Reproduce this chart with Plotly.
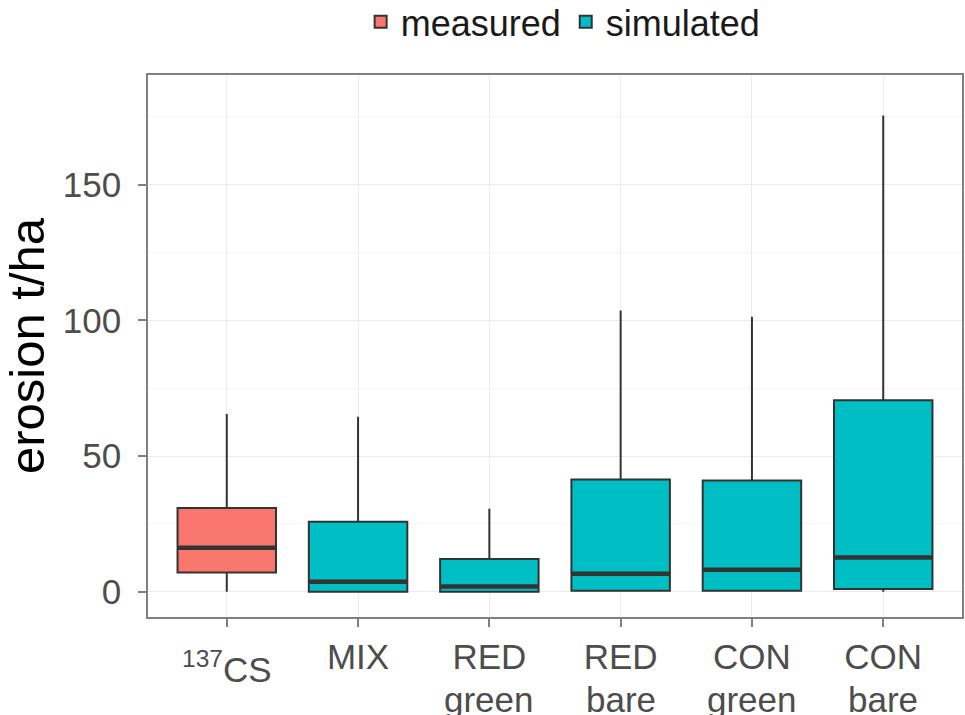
import plotly.graph_objects as go

label_line1 = ["<sup>137</sup>CS", "MIX", "RED", "RED", "CON", "CON"]
label_line2 = ["", "", "green", "bare", "green", "bare"]
groups = ["measured", "simulated", "simulated", "simulated", "simulated", "simulated"]
lower = [0.0, 0.0, 0.0, 0.2, 0.2, 0.0]
q1 = [7.1, 0.0, 0.0, 0.4, 0.4, 1.0]
median = [16.2, 3.7, 1.9, 6.6, 8.1, 12.6]
q3 = [30.9, 25.8, 12.1, 41.4, 41.0, 70.6]
upper = [65.5, 64.5, 30.6, 103.6, 101.3, 175.5]
y_ticks = [0, 50, 100, 150]
y_minor = [25, 75, 125, 175]

colors = {"measured": "#F8766D", "simulated": "#00BFC4"}
box_width = 0.75
line_col = "#333333"
frame_col = "#808080"
font_family = "Liberation Sans, Arial, Helvetica, sans-serif"

fig = go.Figure()
positions = list(range(len(label_line1)))

for g in ["measured", "simulated"]:
    idx = [i for i, gg in enumerate(groups) if gg == g]
    fig.add_trace(go.Box(
        name=g,
        x=[positions[i] for i in idx],
        q1=[q1[i] for i in idx],
        median=[median[i] for i in idx],
        q3=[q3[i] for i in idx],
        lowerfence=[lower[i] for i in idx],
        upperfence=[upper[i] for i in idx],
        width=box_width,
        whiskerwidth=0,
        fillcolor=colors[g],
        line=dict(color=line_col, width=2),
        boxpoints=False,
        hoverinfo="skip",
    ))

# thick median lines (ggplot-style fattened median)
mx, my = [], []
for i, m in zip(positions, median):
    mx += [i - box_width / 2, i + box_width / 2, None]
    my += [m, m, None]
fig.add_trace(go.Scatter(x=mx, y=my, mode="lines", line=dict(color=line_col, width=4.5),
                         showlegend=False, hoverinfo="skip"))

# category labels: first line as tick text (the isotope label as an annotation so its
# baseline can sit lower like the reference), second line as annotation (tight spacing)
tick_text = []
for i, (t1, t2) in enumerate(zip(label_line1, label_line2)):
    if "<sup>" in t1:
        tick_text.append("")
        fig.add_annotation(x=positions[i], xref="x", y=0, yref="paper", text=t1, showarrow=False,
                           yanchor="middle", yshift=-50,
                           font=dict(size=35, color="#4D4D4D", family=font_family))
    else:
        tick_text.append(t1)
    if t2:
        fig.add_annotation(x=positions[i], xref="x", y=0, yref="paper", text=t2, showarrow=False,
                           yanchor="middle", yshift=-82,
                           font=dict(size=35, color="#4D4D4D", family=font_family))

fig.update_layout(
    width=965, height=715,
    margin=dict(l=148, r=3, t=75, b=98, autoexpand=False),
    paper_bgcolor="white", plot_bgcolor="white",
    boxmode="overlay",
    font=dict(family=font_family, color="#4D4D4D", size=35),
    legend=dict(orientation="h", x=0.51, xanchor="center", y=1.098, yanchor="middle",
                font=dict(size=36, color="#1A1A1A"), itemsizing="constant",
                tracegroupgap=0, itemwidth=30),
    showlegend=True,
)
fig.update_xaxes(
    range=[-0.6, 5.6], tickmode="array", tickvals=positions, ticktext=tick_text,
    automargin=False,
    showgrid=True, gridcolor="#EBEBEB", gridwidth=1.2, zeroline=False,
    showline=True, mirror=True, linecolor=frame_col, linewidth=1.5,
    ticks="outside", ticklen=8, tickwidth=1.5, tickcolor=frame_col,
    tickfont=dict(size=35, color="#4D4D4D"),
)
fig.update_yaxes(
    range=[-9.3, 190.4], tickvals=y_ticks,
    automargin=False,
    showgrid=True, gridcolor="#EBEBEB", gridwidth=1.2, zeroline=False,
    minor=dict(tickvals=y_minor, showgrid=True, gridcolor="#F4F4F4", gridwidth=1, ticks=""),
    showline=True, mirror=True, linecolor=frame_col, linewidth=1.5,
    ticks="outside", ticklen=8, tickwidth=1.5, tickcolor=frame_col,
    ticklabelstandoff=10,
    tickfont=dict(size=35, color="#4D4D4D"),
    title=dict(text="erosion t/ha", font=dict(size=49, color="black"), standoff=27),
)

fig.write_html("out.html", config={"displayModeBar": False},
               post_script="document.body.style.margin='0';document.body.style.overflow='hidden';")
